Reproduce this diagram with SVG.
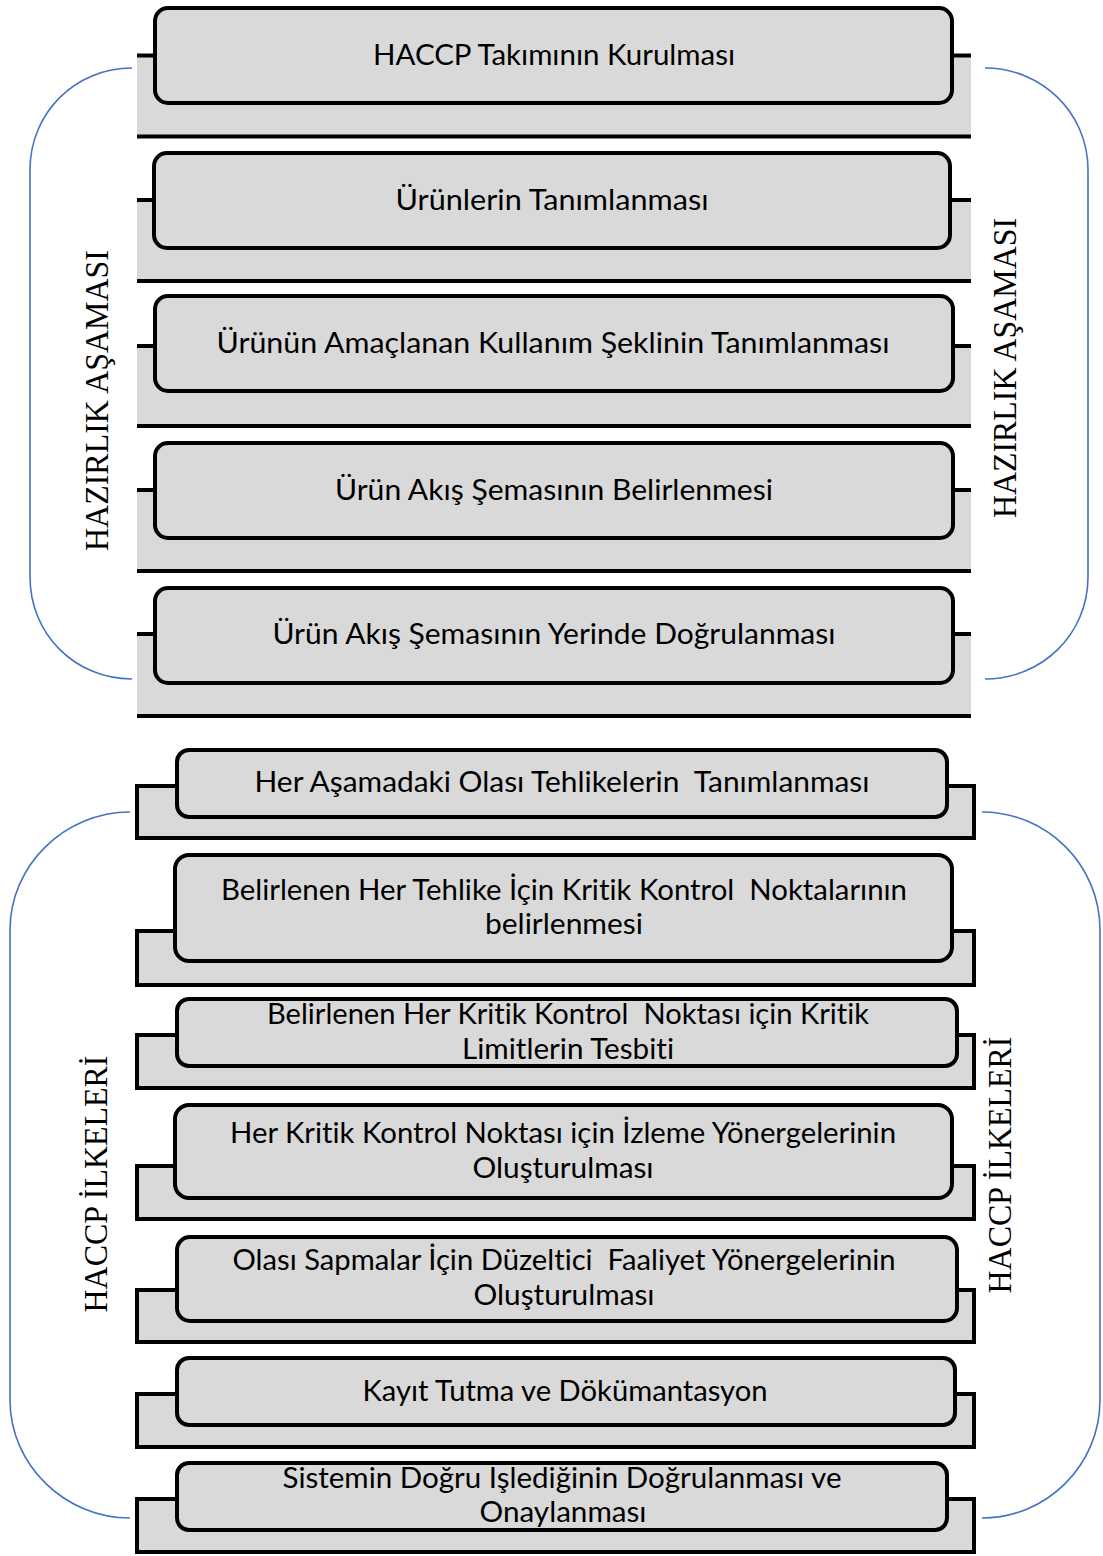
<svg xmlns="http://www.w3.org/2000/svg" width="1103" height="1556" viewBox="0 0 1103 1556">
<style>
.bk{fill:#D9D9D9;stroke:none}
.bkb{fill:#D9D9D9;stroke:#000;stroke-width:4}
.ln{stroke:#000;stroke-width:4;fill:none}
.fr{fill:#D9D9D9;stroke:#000;stroke-width:4}
.t{font-family:Lato,"Liberation Sans",sans-serif;font-size:28px;fill:#000;text-anchor:middle;font-variant-ligatures:none;white-space:pre}
.v{font-family:"Liberation Serif","Times New Roman",serif;font-size:33px;fill:#000;text-anchor:middle}
.br{fill:none;stroke:#4472C4;stroke-width:1.6}
</style>
<rect width="1103" height="1556" fill="#fff"/>
<g id="brackets">
<path class="br" d="M132,68 C75,68 30,113 30,170 L30,577 C30,634 75,679 132,679"/>
<path class="br" d="M985,68 C1042,68 1088,113 1088,170 L1088,577 C1088,634 1042,679 985,679"/>
<path class="br" d="M130,812 C65,812 10,865 10,930 L10,1400 C10,1465 65,1518 130,1518"/>
<path class="br" d="M982,812 C1047,812 1100,865 1100,930 L1100,1400 C1100,1465 1047,1518 982,1518"/>
</g>
<g id="labels">
<text class="v" transform="translate(108,400.5) rotate(-90)" textLength="301" lengthAdjust="spacingAndGlyphs">HAZIRLIK AŞAMASI</text>
<text class="v" transform="translate(1016,368) rotate(-90)" textLength="300" lengthAdjust="spacingAndGlyphs">HAZIRLIK AŞAMASI</text>
<text class="v" transform="translate(107,1184) rotate(-90)" textLength="257" lengthAdjust="spacingAndGlyphs">HACCP İLKELERİ</text>
<text class="v" transform="translate(1011,1165) rotate(-90)" textLength="257" lengthAdjust="spacingAndGlyphs">HACCP İLKELERİ</text>
</g>
<g id="n1">
<rect class="bk" x="137" y="55" width="834" height="82"/>
<line class="ln" x1="137" y1="55.5" x2="971" y2="55.5"/>
<line class="ln" x1="137" y1="136.5" x2="971" y2="136.5"/>
<rect class="fr" x="155" y="8" width="797" height="95" rx="13"/>
<text class="t" x="554" y="65" textLength="362" lengthAdjust="spacingAndGlyphs">HACCP Takımının Kurulması</text>
</g>
<g id="n2">
<rect class="bk" x="137" y="200" width="834" height="81"/>
<line class="ln" x1="137" y1="200" x2="971" y2="200"/>
<line class="ln" x1="137" y1="281" x2="971" y2="281"/>
<rect class="fr" x="154" y="153" width="796" height="95" rx="13"/>
<text class="t" x="552" y="210" textLength="313" lengthAdjust="spacingAndGlyphs">Ürünlerin Tanımlanması</text>
</g>
<g id="n3">
<rect class="bk" x="137" y="346" width="834" height="80"/>
<line class="ln" x1="137" y1="346" x2="971" y2="346"/>
<line class="ln" x1="137" y1="426" x2="971" y2="426"/>
<rect class="fr" x="155" y="296" width="798" height="95" rx="13"/>
<text class="t" x="553" y="353" textLength="673" lengthAdjust="spacingAndGlyphs">Ürünün Amaçlanan Kullanım Şeklinin Tanımlanması</text>
</g>
<g id="n4">
<rect class="bk" x="137" y="490" width="834" height="81"/>
<line class="ln" x1="137" y1="490" x2="971" y2="490"/>
<line class="ln" x1="137" y1="571" x2="971" y2="571"/>
<rect class="fr" x="155" y="443" width="798" height="95" rx="13"/>
<text class="t" x="554" y="500" textLength="438" lengthAdjust="spacingAndGlyphs">Ürün Akış Şemasının Belirlenmesi</text>
</g>
<g id="n5">
<rect class="bk" x="137" y="634" width="834" height="82"/>
<line class="ln" x1="137" y1="634" x2="971" y2="634"/>
<line class="ln" x1="137" y1="716" x2="971" y2="716"/>
<rect class="fr" x="155" y="588" width="798" height="95" rx="13"/>
<text class="t" x="554" y="644" textLength="563" lengthAdjust="spacingAndGlyphs">Ürün Akış Şemasının Yerinde Doğrulanması</text>
</g>
<g id="n6">
<rect class="bkb" x="137" y="786" width="837" height="52"/>
<rect class="fr" x="177" y="750" width="770" height="67" rx="12"/>
<text class="t" x="562" y="792" textLength="615" lengthAdjust="spacingAndGlyphs">Her Aşamadaki Olası Tehlikelerin  Tanımlanması</text>
</g>
<g id="n7">
<rect class="bkb" x="137" y="931" width="837" height="54"/>
<rect class="fr" x="175" y="855" width="777" height="106" rx="14"/>
<text class="t" x="564" y="900" textLength="686" lengthAdjust="spacingAndGlyphs">Belirlenen Her Tehlike İçin Kritik Kontrol  Noktalarının</text>
<text class="t" x="564" y="934" textLength="158" lengthAdjust="spacingAndGlyphs">belirlenmesi</text>
</g>
<g id="n8">
<rect class="bkb" x="137" y="1035" width="837" height="53"/>
<rect class="fr" x="177" y="999" width="780" height="67" rx="12"/>
<text class="t" x="568" y="1024" textLength="602" lengthAdjust="spacingAndGlyphs">Belirlenen Her Kritik Kontrol  Noktası için Kritik</text>
<text class="t" x="568" y="1059" textLength="212" lengthAdjust="spacingAndGlyphs">Limitlerin Tesbiti</text>
</g>
<g id="n9">
<rect class="bkb" x="137" y="1166" width="837" height="53"/>
<rect class="fr" x="175" y="1105" width="777" height="93" rx="14"/>
<text class="t" x="563" y="1143" textLength="666" lengthAdjust="spacingAndGlyphs">Her Kritik Kontrol Noktası için İzleme Yönergelerinin</text>
<text class="t" x="563" y="1178" textLength="181" lengthAdjust="spacingAndGlyphs">Oluşturulması</text>
</g>
<g id="n10">
<rect class="bkb" x="137" y="1290" width="837" height="52"/>
<rect class="fr" x="177" y="1237" width="780" height="84" rx="13"/>
<text class="t" x="564" y="1270" textLength="663" lengthAdjust="spacingAndGlyphs">Olası Sapmalar İçin Düzeltici  Faaliyet Yönergelerinin</text>
<text class="t" x="564" y="1305" textLength="181" lengthAdjust="spacingAndGlyphs">Oluşturulması</text>
</g>
<g id="n11">
<rect class="bkb" x="137" y="1394" width="837" height="53"/>
<rect class="fr" x="177" y="1358" width="778" height="67" rx="12"/>
<text class="t" x="565" y="1401" textLength="405" lengthAdjust="spacingAndGlyphs">Kayıt Tutma ve Dökümantasyon</text>
</g>
<g id="n12">
<rect class="bkb" x="137" y="1499" width="837" height="53"/>
<rect class="fr" x="177" y="1463" width="770" height="67" rx="12"/>
<text class="t" x="562" y="1488" textLength="559" lengthAdjust="spacingAndGlyphs">Sistemin Doğru Işlediğinin Doğrulanması ve</text>
<text class="t" x="563" y="1522" textLength="167" lengthAdjust="spacingAndGlyphs">Onaylanması</text>
</g>
</svg>
